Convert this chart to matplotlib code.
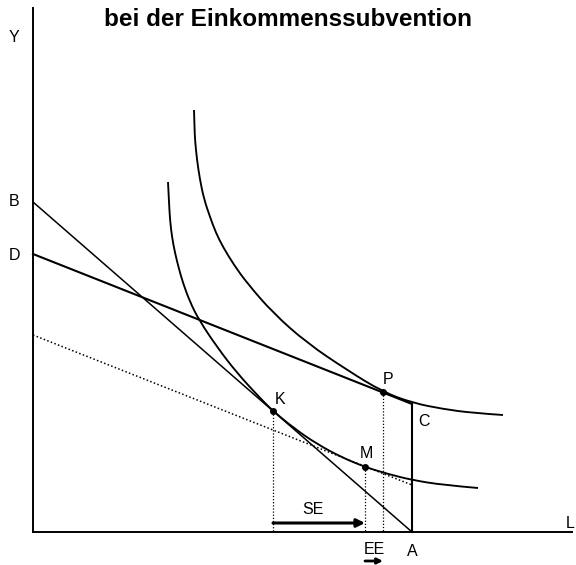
import matplotlib.pyplot as plt
from matplotlib.path import Path
from matplotlib.patches import PathPatch

plt.rcParams['font.family'] = ['Liberation Sans', 'DejaVu Sans']

# budget lines (L on x, Y on y)
A = 379
B = 330
D = 278
C_y = 128
dot_start = 197

# tangency points
K = (240, 121)
M = (332, 65)
P = (350, 140)

# indifference curves, points
low_L = [135, 136, 137, 139, 142, 146, 150, 157, 166, 184, 204, 227, 240, 262, 284, 308, 332, 355, 379, 410, 445]
low_Y = [350, 330, 312, 295, 279, 263, 249, 230, 212, 185, 159, 134, 121, 103, 88, 75, 65, 58, 52, 47, 44]
up_L = [161, 161.5, 162, 164, 167, 171, 177, 183, 190, 201, 214, 240, 274, 314, 350, 380, 410, 440, 470]
up_Y = [422, 405, 392, 372, 352, 333, 315, 299, 285, 267, 249, 219, 189, 162, 140, 129, 123, 119, 117]


def smooth_path(xs, ys):
    # quadratic bezier through midpoints, read points used as control points
    pts = list(zip(xs, ys))
    verts = [pts[0]]
    codes = [Path.MOVETO]
    for i in range(1, len(pts) - 1):
        mid = ((pts[i][0] + pts[i + 1][0]) / 2, (pts[i][1] + pts[i + 1][1]) / 2)
        if i == len(pts) - 2:
            mid = pts[-1]
        verts += [pts[i], mid]
        codes += [Path.CURVE3, Path.CURVE3]
    return Path(verts, codes)


fig = plt.figure(figsize=(5.76, 5.65), dpi=100)
ax = fig.add_axes([0, 0, 1, 1])
ax.set_xlim(-33, 543)
ax.set_ylim(-33, 532)
ax.axis('off')

# axes
ax.plot([0, 0], [0, 524], color='black', lw=1.4)
ax.plot([0, 539], [0, 0], color='black', lw=1.4)

# budget lines
ax.plot([0, A], [B, 0], color='black', lw=1.1)
ax.plot([0, A], [D, C_y], color='black', lw=1.5)
ax.plot([A, A], [C_y, 0], color='black', lw=1.5)
slope = (C_y - D) / A
ax.plot([0, A], [dot_start, dot_start + slope * A], color='black', lw=1.1,
        linestyle=(0, (1, 1.5)))

# indifference curves
for xs, ys in ((low_L, low_Y), (up_L, up_Y)):
    ax.add_patch(PathPatch(smooth_path(xs, ys), facecolor='none',
                           edgecolor='black', lw=1.35))

# dotted drop lines
for pt in (K, M, P):
    ax.plot([pt[0], pt[0]], [pt[1], 0], color='black', lw=0.9,
            linestyle=(0, (1, 1.5)))
    ax.plot(pt[0], pt[1], 'o', color='black', ms=4)

# arrows
ax.annotate('', xy=(M[0], 9), xytext=(K[0], 9),
            arrowprops=dict(arrowstyle='-|>', lw=2.2, color='black',
                            mutation_scale=12, shrinkA=0, shrinkB=0))
ax.annotate('', xy=(P[0], -29), xytext=(M[0], -29),
            arrowprops=dict(arrowstyle='-|>', lw=2.0, color='black',
                            mutation_scale=8, shrinkA=0, shrinkB=0))

fs = 11.5
ax.text(-19, 494, 'Y', fontsize=fs, ha='center', va='center')
ax.text(-19, 331, 'B', fontsize=fs, ha='center', va='center')
ax.text(-19, 277, 'D', fontsize=fs, ha='center', va='center')
ax.text(247, 133, 'K', fontsize=fs, ha='center', va='center')
ax.text(355, 152, 'P', fontsize=fs, ha='center', va='center')
ax.text(391, 111, 'C', fontsize=fs, ha='center', va='center')
ax.text(333, 79, 'M', fontsize=fs, ha='center', va='center')
ax.text(280, 22, 'SE', fontsize=fs, ha='center', va='center')
ax.text(341, -17, 'EE', fontsize=fs, ha='center', va='center')
ax.text(379, -20, 'A', fontsize=fs, ha='center', va='center')
ax.text(537, 9, 'L', fontsize=fs, ha='center', va='center')

ax.text(255, 512, 'bei der Einkommenssubvention', fontsize=17.5,
        fontweight='bold', ha='center', va='center')

fig.savefig('out.png', dpi=100)
